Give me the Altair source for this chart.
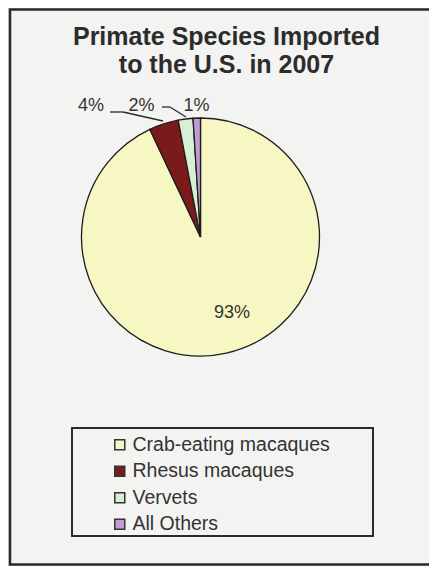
import altair as alt
import pandas as pd

# ---- data ----
species = ["Crab-eating macaques", "Rhesus macaques", "Vervets", "All Others"]
percent = [93, 4, 2, 1]
colors = ["#f7f7c4", "#7a1a1a", "#d7efd3", "#c59ad9"]
title_lines = ["Primate Species Imported", "to the U.S. in 2007"]

W, H = 421, 558            # canvas (page margin 8px around it)
CX, CY, R = 192.5, 229, 119  # pie centre / radius in view pixels

df = pd.DataFrame({"species": species, "percent": percent, "idx": list(range(len(species)))})
one = pd.DataFrame({"k": [0]})
base = alt.Chart(df)
deco = alt.Chart(one)

FONT = "Liberation Sans"
INK = "#2c2c2c"

frame = deco.mark_rect(fill="#f3f3f1", stroke="#2a2a2a", strokeWidth=2.5).encode(
    x=alt.value(2), x2=alt.value(W + 20), y=alt.value(1.5), y2=alt.value(H - 1.5)
)

legend_box = deco.mark_rect(filled=False, stroke="#2a2a2a", strokeWidth=2).encode(
    x=alt.value(64), x2=alt.value(365), y=alt.value(420), y2=alt.value(528)
)

pie = base.mark_arc(radius=R, stroke="#1e1e1e", strokeWidth=1.3).encode(
    theta=alt.Theta("percent:Q", stack=True),
    order=alt.Order("idx:Q"),
    color=alt.Color(
        "species:N",
        scale=alt.Scale(domain=species, range=colors),
        legend=alt.Legend(
            title=None,
            orient="none",
            legendX=102,
            legendY=427,
            padding=0,
            symbolType="square",
            symbolSize=100,
            symbolStrokeColor="#333333",
            symbolStrokeWidth=1.5,
            symbolOpacity=1,
            labelFont=FONT,
            labelFontSize=19.5,
            labelColor="#333333",
            labelOffset=3,
            labelLimit=320,
            rowPadding=5.5,
        ),
    ),
    x=alt.value(CX),
    y=alt.value(CY),
)


def pct_label(name, x, y):
    return (
        base.transform_filter(alt.datum.species == name)
        .transform_calculate(label="datum.percent + '%'")
        .mark_text(font=FONT, fontSize=18, color="#333333", align="center", baseline="alphabetic")
        .encode(x=alt.value(x), y=alt.value(y), text="label:N")
    )


def leader(x1, y1, x2, y2):
    return deco.mark_rule(color="#2a2a2a", strokeWidth=1.3).encode(
        x=alt.value(x1), y=alt.value(y1), x2=alt.value(x2), y2=alt.value(y2)
    )


labels = [
    pct_label(species[0], 224, 310),
    pct_label(species[1], 83, 103),
    pct_label(species[2], 133.5, 103),
    pct_label(species[3], 188.5, 103),
]
leaders = [
    leader(102, 104, 115, 104),
    leader(115, 104, 155, 113),
    leader(154, 99, 162, 99),
    leader(162, 99, 178, 109),
]

chart = (
    alt.layer(frame, legend_box, pie, *leaders, *labels)
    .properties(
        width=W,
        height=H,
        autosize=alt.AutoSizeParams(type="none"),
        padding=0,
        background="#e9e3cc",
        title=alt.TitleParams(
            text=title_lines,
            font=FONT,
            fontSize=25,
            fontWeight="bold",
            color=INK,
            lineHeight=28,
            offset=-90,
            dx=8,
            baseline="alphabetic",
            anchor="middle",
        ),
    )
    .configure_view(strokeWidth=0)
)

chart.save("out.html", embed_options={"renderer": "svg", "actions": False})
